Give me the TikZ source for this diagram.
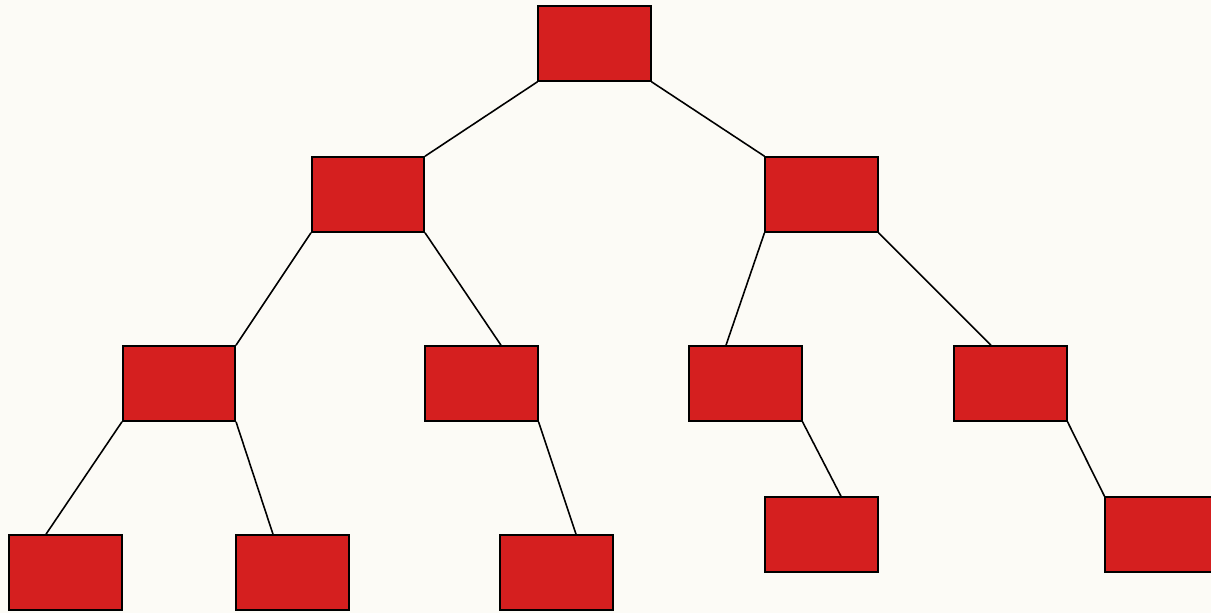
\documentclass[tikz,border=0pt]{standalone}
\usetikzlibrary{positioning}

\definecolor{bgcream}{HTML}{FCFBF6}
\definecolor{boxred}{HTML}{D51F1F}

\begin{document}
\begin{tikzpicture}[
    x=0.02cm,
    y=-0.02cm,
    every node/.style={
        rectangle,
        draw=black,
        line width=0.9pt,
        minimum width=2.25cm,
        minimum height=1.5cm,
        inner sep=0pt,
        fill=boxred
    },
    edge/.style={
        line width=0.9pt,
        black
    }
]

% Background
\fill[bgcream] (0,0) rectangle (1211,613);
\useasboundingbox (0,0) rectangle (1211,613);

% Layer 0
\node (root) at (594.5,43.5) {};

% Layer 1
\node (l) at (368,194.5) {};
\node (r) at (821.5,194.5) {};

% Layer 2
\node (ll) at (179,383.5) {};
\node (lr) at (481.5,383.5) {};
\node (rl) at (745.5,383.5) {};
\node (rr) at (1010.5,383.5) {};

% Layer 3
\node (lll) at (65.5,572.5) {};
\node (llr) at (292.5,572.5) {};
\node (lrr) at (556.5,572.5) {};
\node (rlr) at (821.5,534.5) {};
\node (rrr) at (1161.5,534.5) {};

% Edges
\draw[edge] (root.south west) -- (l.north east);
\draw[edge] (root.south east) -- (r.north west);

\draw[edge] (l.south west) -- (ll.north east);
\draw[edge] (l.south east) -- (lr.63);
\draw[edge] (r.south west) -- (rl.117);
\draw[edge] (r.south east) -- (rr.117);

\draw[edge] (ll.south west) -- (lll.117);
\draw[edge] (ll.south east) -- (llr.117);
\draw[edge] (lr.south east) -- (lrr.63);
\draw[edge] (rl.south east) -- (rlr.63);
\draw[edge] (rr.south east) -- (rrr.north west);

\end{tikzpicture}
\end{document}
